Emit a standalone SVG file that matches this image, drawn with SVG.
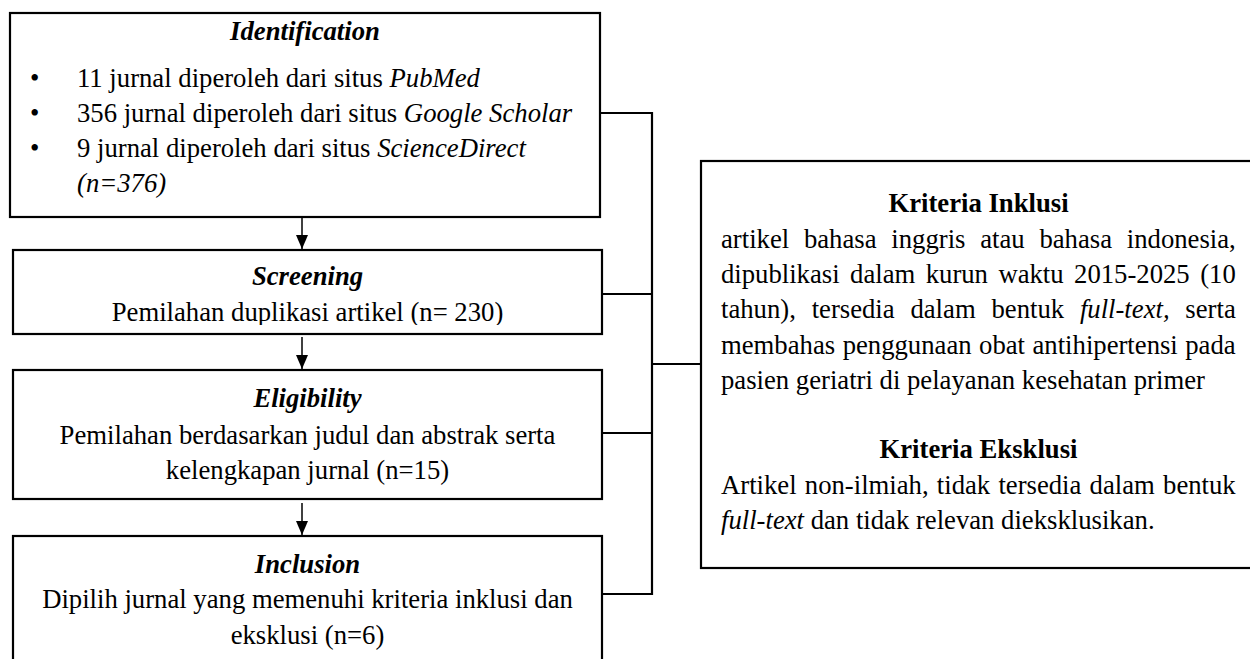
<svg xmlns="http://www.w3.org/2000/svg" width="1250" height="659" viewBox="0 0 1250 659">
<style>
  text { font-family: "Liberation Serif", "Times New Roman", serif; font-size: 26.7px; fill: #000; }
  .t { font-weight: bold; font-style: italic; text-anchor: middle; }
  .c { text-anchor: middle; }
  .b { font-weight: bold; text-anchor: middle; }
  .i { font-style: italic; }
  .box { fill: #fff; stroke: #000; stroke-width: 2.2; }
  .ln { fill: none; stroke: #000; stroke-width: 2.2; }
  .ar { fill: none; stroke: #000; stroke-width: 1.5; }
</style>
<defs>
  <marker id="ah" markerUnits="userSpaceOnUse" markerWidth="14" markerHeight="12" refX="14" refY="6" orient="auto" viewBox="0 0 14 12">
    <path d="M0,0 L14,6 L0,12 Z" fill="#000"/>
  </marker>
  <clipPath id="clipScr">
    <rect x="14" y="251" width="587" height="74"/>
  </clipPath>
</defs>
<rect width="1250" height="659" fill="#fff"/>

<g id="connectors">
  <path class="ln" d="M601,113 H652 V594 H603"/>
  <path class="ln" d="M603,294 H652"/>
  <path class="ln" d="M603,433 H652"/>
  <path class="ln" d="M652,364 H701"/>
  <line class="ar" x1="302" y1="218" x2="302" y2="249" marker-end="url(#ah)"/>
  <line class="ar" x1="302" y1="337" x2="302" y2="369" marker-end="url(#ah)"/>
  <line class="ar" x1="302" y1="503" x2="302" y2="535" marker-end="url(#ah)"/>
</g>

<g id="identification">
  <rect class="box" x="10" y="13" width="590" height="204"/>
  <text class="t" x="305" y="40">Identification</text>
  <text x="30" y="87">•</text>
  <text x="77" y="87">11 jurnal diperoleh dari situs <tspan class="i">PubMed</tspan></text>
  <text x="30" y="122">•</text>
  <text x="77" y="122">356 jurnal diperoleh dari situs <tspan class="i">Google Scholar</tspan></text>
  <text x="30" y="157">•</text>
  <text x="77" y="157">9 jurnal diperoleh dari situs <tspan class="i">ScienceDirect</tspan></text>
  <text class="i" x="77" y="192">(n=376)</text>
</g>

<g id="screening">
  <rect class="box" x="13" y="250" width="589" height="84"/>
  <text class="t" x="307.5" y="285">Screening</text>
  <text class="c" x="307.5" y="321" clip-path="url(#clipScr)">Pemilahan duplikasi artikel (n= 230)</text>
</g>

<g id="eligibility">
  <rect class="box" x="13" y="370" width="589" height="129"/>
  <text class="t" x="307.5" y="407">Eligibility</text>
  <text class="c" x="307.5" y="444">Pemilahan berdasarkan judul dan abstrak serta</text>
  <text class="c" x="307.5" y="479">kelengkapan jurnal (n=15)</text>
</g>

<g id="inclusion">
  <rect class="box" x="13" y="536" width="589" height="140"/>
  <text class="t" x="307.5" y="573">Inclusion</text>
  <text class="c" x="307.5" y="608">Dipilih jurnal yang memenuhi kriteria inklusi dan</text>
  <text class="c" x="307.5" y="644">eksklusi (n=6)</text>
</g>

<g id="kriteria">
  <rect class="box" x="701" y="161" width="600" height="407"/>
  <text class="b" x="978.5" y="212">Kriteria Inklusi</text>
  <text x="721" y="247.5" word-spacing="8.09">artikel bahasa inggris atau bahasa indonesia,</text>
  <text x="721" y="283" word-spacing="3.77">dipublikasi dalam kurun waktu 2015-2025 (10</text>
  <text x="721" y="318" word-spacing="9.13">tahun), tersedia dalam bentuk <tspan class="i">full-text,</tspan> serta</text>
  <text x="721" y="353.5" word-spacing="0.83">membahas penggunaan obat antihipertensi pada</text>
  <text x="721" y="389">pasien geriatri di pelayanan kesehatan primer</text>
  <text class="b" x="978.5" y="458">Kriteria Eksklusi</text>
  <text x="721" y="493.5" word-spacing="1.55">Artikel non-ilmiah, tidak tersedia dalam bentuk</text>
  <text x="721" y="529"><tspan class="i">full-text</tspan> dan tidak relevan dieksklusikan.</text>
</g>
</svg>
